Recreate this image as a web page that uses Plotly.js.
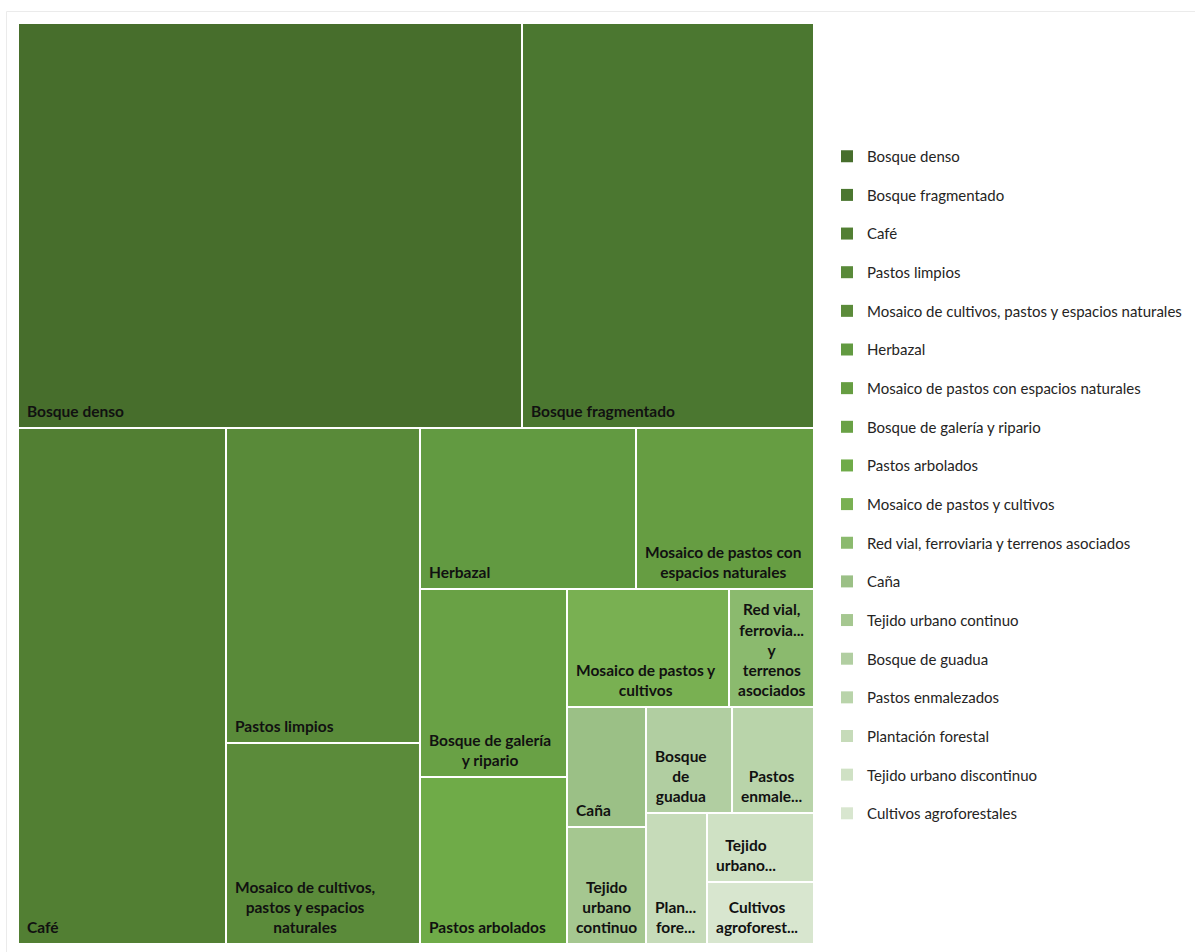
<!DOCTYPE html>
<html>
<head>
<meta charset="utf-8">
<script src="https://cdn.plot.ly/plotly-3.0.1.min.js"></script>
<style>
  html, body { margin: 0; padding: 0; background: #ffffff; }
  #chart { width: 1195px; height: 952px; }
</style>
</head>
<body>
<div id="chart"></div>
<script>
// ---- Data ----
const categories = [
  'Bosque denso',
  'Bosque fragmentado',
  'Café',
  'Pastos limpios',
  'Mosaico de cultivos, pastos y espacios naturales',
  'Herbazal',
  'Mosaico de pastos con espacios naturales',
  'Bosque de galería y ripario',
  'Pastos arbolados',
  'Mosaico de pastos y cultivos',
  'Red vial, ferroviaria y terrenos asociados',
  'Caña',
  'Tejido urbano continuo',
  'Bosque de guadua',
  'Pastos enmalezados',
  'Plantación forestal',
  'Tejido urbano discontinuo',
  'Cultivos agroforestales'
];

const values = [
  20412, 11826, 10733, 6111, 3899, 3478, 2866, 2764, 2455,
  1912, 1003, 948, 924, 912, 869, 799, 738, 663
];

// Tile labels as they are wrapped / truncated inside the tiles
const tileLabels = [
  'Bosque denso',
  'Bosque fragmentado',
  'Café',
  'Pastos limpios',
  'Mosaico de cultivos,<br>pastos y espacios<br>naturales',
  'Herbazal',
  'Mosaico de pastos con<br>espacios naturales',
  'Bosque de galería<br>y ripario',
  'Pastos arbolados',
  'Mosaico de pastos y<br>cultivos',
  'Red vial,<br>ferrovia...<br>y<br>terrenos<br>asociados',
  'Caña',
  'Tejido<br>urbano<br>continuo',
  'Bosque<br>de<br>guadua',
  'Pastos<br>enmale...',
  'Plan...<br>fore...',
  'Tejido<br>urbano...',
  'Cultivos<br>agroforest...'
];

// ---- Styles ----
const colors = [
  '#476e2c', '#4b7730', '#527f33', '#598a39', '#5b8b3a', '#629a41',
  '#669d42', '#69a145', '#6fab48', '#79b052', '#8bba6e', '#9bc086',
  '#a5c790', '#b1cea1', '#b9d4aa', '#c6dbb9', '#cfe1c4', '#d8e6cf'
];

// Row grouping used by the tiling (indices into categories);
// nesting depth alternates stacking direction (dice-slice packing).
const lastCol = [15, [16, 17]];
const g7 = [[13, 14], lastCol];
const g6 = [[11, 12], g7];
const g5 = [[9, 10], g6];
const g4 = [[7, 8], g5];
const g3 = [[5, 6], g4];
const g2 = [2, [3, 4], g3];
const tilingTree = [[0, 1], g2];

const ids = [], labels = [], parents = [], vals = [], texts = [], cols = [];
let groupCount = 0;
function addNode(node, parentId) {
  if (typeof node === 'number') {
    ids.push(categories[node]);
    labels.push(categories[node]);
    parents.push(parentId);
    vals.push(values[node]);
    texts.push(tileLabels[node]);
    cols.push(colors[node]);
    return;
  }
  const id = 'grupo' + (groupCount++);
  ids.push(id);
  labels.push(id);
  parents.push(parentId);
  vals.push(0);
  texts.push('');
  cols.push('#ffffff');
  node.forEach(child => addNode(child, id));
}
addNode(tilingTree, '');

const W = 1195, H = 952;
const tileFont = { family: 'Segoe UI, Lato, sans-serif', size: 15.5, color: '#111111', weight: 700 };

const treemap = {
  type: 'treemap',
  ids: ids,
  labels: labels,
  parents: parents,
  values: vals,
  text: texts,
  texttemplate: '%{text}',
  textposition: 'bottom left',
  textfont: tileFont,
  insidetextfont: tileFont,
  branchvalues: 'remainder',
  sort: false,
  tiling: { packing: 'dice-slice', pad: 0 },
  marker: {
    colors: cols,
    line: { color: '#ffffff', width: 2 },
    pad: { t: 0, l: 0, r: 0, b: 0 },
    depthfade: false
  },
  pathbar: { visible: false },
  hoverinfo: 'skip',
  showlegend: false,
  domain: { x: [18 / W, 814 / W], y: [1 - 944 / H, 1 - 23 / H] }
};

// Legend entries (one per category, drawn by Plotly's legend)
const legendTraces = categories.map((c, i) => ({
  type: 'scatter',
  mode: 'markers',
  x: [null],
  y: [null],
  name: c,
  legendgroup: 'g' + i,
  marker: { symbol: 'square', size: 12, color: colors[i] },
  showlegend: true,
  hoverinfo: 'skip'
}));

const layout = {
  width: W,
  height: H,
  margin: { l: 0, r: 0, t: 0, b: 0 },
  paper_bgcolor: '#ffffff',
  plot_bgcolor: '#ffffff',
  xaxis: { visible: false },
  yaxis: { visible: false },
  showlegend: true,
  legend: {
    x: 827 / W,
    xanchor: 'left',
    y: 1 - 140 / H,
    yanchor: 'top',
    traceorder: 'grouped',
    tracegroupgap: 16.15,
    font: { family: 'Segoe UI, Lato, sans-serif', size: 15, color: '#252423' },
    bgcolor: 'rgba(0,0,0,0)',
    borderwidth: 0
  },
  shapes: [{
    type: 'path',
    xref: 'paper', yref: 'paper',
    path: 'M ' + (6.5 / W) + ',-0.01 L ' + (6.5 / W) + ',' + (1 - 11.5 / H) + ' L 1.01,' + (1 - 11.5 / H),
    line: { color: '#ebebeb', width: 1 }
  }]
};

Plotly.newPlot('chart', [treemap].concat(legendTraces), layout, { displayModeBar: false, responsive: false })
  .then(function (gd) {
    // Label styling: inset from the tile corner, multi-line labels centred on each other
    const done = new Set();
    gd.querySelectorAll('.slicetext').forEach(function (el) {
      const t = el.tagName.toLowerCase() === 'text' ? el : el.querySelector('text');
      if (!t || done.has(t) || !t.textContent.trim()) return;
      done.add(t);
      const before = t.getBBox();
      t.setAttribute('text-anchor', 'middle');
      const after = t.getBBox();
      const dx = before.x - after.x;
      const orig = t.getAttribute('transform') || '';
      t.setAttribute('transform', 'translate(6,-5) ' + orig + ' translate(' + dx + ',0)');
    });
  });
</script>
</body>
</html>
